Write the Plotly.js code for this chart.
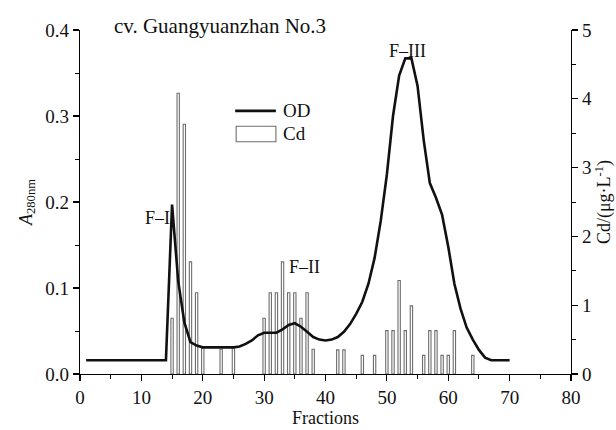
<!DOCTYPE html>
<html>
<head>
<meta charset="utf-8">
<script src="https://cdn.plot.ly/plotly-3.0.1.min.js"></script>
<style>html,body{margin:0;padding:0;background:#fff;}#chart{width:616px;height:430px;}</style>
</head>
<body>
<div id="chart"></div>
<script>
// OD (A280nm) elution profile
const odFractions = [1, 14, 15, 16, 17, 18, 19, 20, 25, 26, 27, 28, 29, 30, 31, 32, 33, 34, 35, 36, 37, 38, 39, 40, 41, 42, 43, 44, 45, 46, 47, 48, 49, 50, 51, 52, 53, 54, 55, 56, 57, 58, 59, 60, 61, 62, 63, 64, 65, 66, 67, 70];
const odValues = [0.016, 0.016, 0.197, 0.108, 0.060, 0.037, 0.033, 0.031, 0.031, 0.032, 0.035, 0.039, 0.045, 0.048, 0.048, 0.048, 0.052, 0.057, 0.059, 0.055, 0.049, 0.043, 0.040, 0.039, 0.040, 0.043, 0.049, 0.058, 0.070, 0.084, 0.105, 0.135, 0.178, 0.232, 0.300, 0.347, 0.367, 0.367, 0.335, 0.272, 0.222, 0.205, 0.185, 0.148, 0.105, 0.076, 0.054, 0.040, 0.028, 0.019, 0.016, 0.016];

// Cd content (µg/L)
const cdFractions = [15, 16, 17, 18, 19, 20, 23, 25, 30, 31, 32, 33, 34, 35, 36, 37, 38, 42, 43, 46, 48, 50, 51, 52, 53, 54, 56, 57, 58, 59, 60, 61, 64];
const cdValues = [0.81, 4.08, 3.63, 1.63, 1.18, 0.38, 0.36, 0.38, 0.81, 1.18, 1.18, 1.63, 1.18, 1.18, 0.81, 1.18, 0.36, 0.35, 0.35, 0.27, 0.27, 0.63, 0.63, 1.36, 0.63, 0.99, 0.27, 0.63, 0.63, 0.27, 0.27, 0.63, 0.27];

const xTicks = [0, 10, 20, 30, 40, 50, 60, 70, 80];
const peakLabels = ['F\u2013I', 'F\u2013II', 'F\u2013III'];
const peakX = [12.7, 36.5, 53.3];
const peakY = [0.181, 0.124, 0.376];
const legendNames = ['OD', 'Cd'];

const FONT = 'Liberation Serif, Times New Roman, serif';

const traces = [
  {
    type: 'bar', name: legendNames[1], x: cdFractions, y: cdValues, yaxis: 'y', width: 0.38,
    marker: {color: 'rgba(255,255,255,0)', line: {color: '#6e6e6e', width: 1.1}}, showlegend: false
  },
  {
    type: 'scatter', mode: 'lines', name: legendNames[0], x: odFractions, y: odValues, yaxis: 'y2',
    line: {color: '#111', width: 2.6}, showlegend: false
  }
];

const axisCommon = {
  showline: true, linecolor: '#000', linewidth: 1.3, ticks: 'outside', ticklen: 6,
  tickwidth: 1.2, tickcolor: '#000', showgrid: false, zeroline: false,
  tickfont: {family: FONT, size: 19, color: '#111'}
};

const layout = {
  width: 616, height: 430,
  margin: {l: 80, r: 45, t: 30, b: 56},
  paper_bgcolor: '#fff', plot_bgcolor: '#fff',
  showlegend: false,
  xaxis: Object.assign({}, axisCommon, {
    range: [0, 80], tickvals: xTicks, ticktext: xTicks.map(String),
    minor: {dtick: 5, ticklen: 4, ticks: 'outside', tickcolor: '#000', tickwidth: 1},
    title: {text: 'Fractions', font: {family: FONT, size: 18, color: '#111'}, standoff: 4}
  }),
  yaxis: Object.assign({}, axisCommon, {
    side: 'right', range: [0, 5], dtick: 1, tickformat: 'd',
    minor: {dtick: 0.5, ticklen: 4, ticks: 'outside', tickcolor: '#000', tickwidth: 1},
    title: {text: 'Cd/(\u03bcg\u00b7L<sup>-1</sup>)', font: {family: FONT, size: 18, color: '#111'}, standoff: 6}
  }),
  yaxis2: Object.assign({}, axisCommon, {
    overlaying: 'y', side: 'left', range: [0, 0.4], dtick: 0.1, tickformat: '.1f',
    minor: {dtick: 0.05, ticklen: 4, ticks: 'outside', tickcolor: '#000', tickwidth: 1},
    title: {text: '<i>A</i><sub>280nm</sub>', font: {family: FONT, size: 18, color: '#111'}, standoff: 8}
  }),
  shapes: [
    {type: 'line', xref: 'paper', yref: 'paper', x0: 0.316, x1: 0.399, y0: 0.765, y1: 0.765,
     line: {color: '#111', width: 2.6}},
    {type: 'rect', xref: 'paper', yref: 'paper', x0: 0.318, x1: 0.399, y0: 0.675, y1: 0.720,
     line: {color: '#6e6e6e', width: 1.1}, fillcolor: 'rgba(255,255,255,0)'}
  ],
  annotations: [
    {xref: 'paper', yref: 'paper', x: 0.066, y: 1.012, xanchor: 'left', yanchor: 'middle',
     text: 'cv. Guangyuanzhan No.3', showarrow: false, font: {family: FONT, size: 21, color: '#111'}},
    {xref: 'paper', yref: 'paper', x: 0.41, y: 0.765, xanchor: 'left', yanchor: 'middle',
     text: legendNames[0], showarrow: false, font: {family: FONT, size: 19, color: '#111'}},
    {xref: 'paper', yref: 'paper', x: 0.41, y: 0.698, xanchor: 'left', yanchor: 'middle',
     text: legendNames[1], showarrow: false, font: {family: FONT, size: 19, color: '#111'}}
  ].concat(peakLabels.map((t, i) => ({
    xref: 'x', yref: 'y2', x: peakX[i], y: peakY[i], text: t, showarrow: false,
    font: {family: FONT, size: 18, color: '#111'}
  })))
};

Plotly.newPlot('chart', traces, layout, {displayModeBar: false, staticPlot: true});
</script>
</body>
</html>
